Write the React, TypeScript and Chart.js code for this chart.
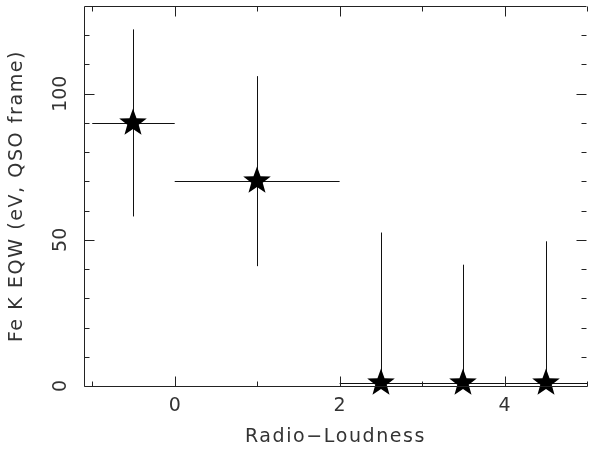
import React, { useEffect, useRef } from "react";
import { Chart, registerables } from "chart.js";

Chart.register(...registerables);

// ---- data ----
const xValues = [-0.5, 1, 2.5, 3.5, 4.5];
const yValues = [90, 70, 1, 1, 1];
const xLow = [-1, 0, 2, 3, 4];
const xHigh = [0, 2, 3, 4, 5];
const yLow = [58, 41, 0, 0, 0];
const yHigh = [122, 106, 52.5, 41.5, 49.5];

const xTickValues = [0, 2, 4];
const xMinorTickValues = [-1, 1, 3, 5];
const yTickValues = [0, 50, 100];
const yMinorTickValues = [10, 20, 30, 40, 60, 70, 80, 90, 110, 120];

const xTitle = "Radio\u2212Loudness";
const yTitle = "Fe K EQW (eV, QSO frame)";

const FONT = "'DejaVu Sans', sans-serif";
const TEXT_COLOR = "#333";

function makeStar(R: number, r: number): HTMLCanvasElement {
  const s = 30;
  const c = document.createElement("canvas");
  c.width = s;
  c.height = s;
  const ctx = c.getContext("2d")!;
  const cx = s / 2;
  const cy = s / 2;
  ctx.beginPath();
  for (let i = 0; i < 10; i++) {
    const rad = i % 2 === 0 ? R : r;
    const a = -Math.PI / 2 + (i * Math.PI) / 5;
    const px = cx + rad * Math.cos(a);
    const py = cy + rad * Math.sin(a);
    if (i === 0) ctx.moveTo(px, py);
    else ctx.lineTo(px, py);
  }
  ctx.closePath();
  ctx.fillStyle = "#000";
  ctx.fill();
  return c;
}

const framePlugin = {
  id: "pgframe",
  beforeDraw(chart: any) {
    chart.ctx.letterSpacing = "1.6px";
  },
  beforeDatasetsDraw(chart: any) {
    const ctx = chart.ctx;
    ctx.letterSpacing = "0px";
    const xs = chart.scales.x;
    const ys = chart.scales.y;
    ctx.save();
    ctx.strokeStyle = "#111";
    ctx.lineWidth = 1;
    for (let i = 0; i < xValues.length; i++) {
      const px = Math.round(xs.getPixelForValue(xValues[i])) + 0.5;
      const py = Math.round(ys.getPixelForValue(yValues[i])) + 0.5;
      ctx.beginPath();
      ctx.moveTo(xs.getPixelForValue(xLow[i]), py);
      ctx.lineTo(xs.getPixelForValue(xHigh[i]), py);
      ctx.moveTo(px, ys.getPixelForValue(yLow[i]));
      ctx.lineTo(px, ys.getPixelForValue(yHigh[i]));
      ctx.stroke();
    }
    ctx.restore();
    ctx.imageSmoothingEnabled = false;
  },
  afterDatasetsDraw(chart: any) {
    chart.ctx.imageSmoothingEnabled = true;
  },
  afterDraw(chart: any) {
    const ctx = chart.ctx;
    const { left, right, top, bottom } = chart.chartArea;
    const xs = chart.scales.x;
    const ys = chart.scales.y;
    ctx.save();
    ctx.letterSpacing = "0px";
    ctx.strokeStyle = "#222";
    ctx.lineWidth = 1;
    const L = Math.round(left) + 0.5;
    const B = Math.round(bottom) + 0.5;
    const T = Math.round(top) + 0.5;
    const R = Math.round(right) - 0.5;
    ctx.beginPath();
    // frame: top, left, bottom (no right line)
    ctx.moveTo(R, T);
    ctx.lineTo(L, T);
    ctx.lineTo(L, B);
    ctx.lineTo(R + 1, B);
    const xt = (v: number, len: number) => {
      const p = Math.round(xs.getPixelForValue(v)) + 0.5;
      ctx.moveTo(p, B);
      ctx.lineTo(p, B - len);
      ctx.moveTo(p, T);
      ctx.lineTo(p, T + len);
    };
    const yt = (v: number, len: number) => {
      const p = Math.round(ys.getPixelForValue(v)) + 0.5;
      ctx.moveTo(L, p);
      ctx.lineTo(L + len, p);
      ctx.moveTo(R, p);
      ctx.lineTo(R - len, p);
    };
    xTickValues.forEach((v) => xt(v, 10));
    xMinorTickValues.forEach((v) => xt(v, 5));
    yTickValues.forEach((v) => yt(v, 10));
    yMinorTickValues.forEach((v) => yt(v, 5));
    ctx.stroke();
    ctx.restore();
  },
};

export default function App() {
  const ref = useRef<HTMLCanvasElement | null>(null);

  useEffect(() => {
    document.body.style.margin = "0";
    const canvas = ref.current!;
    const star = makeStar(14.5, 6);
    const chart = new Chart(canvas, {
      type: "scatter",
      data: {
        datasets: [
          {
            data: xValues.map((x, i) => ({ x, y: yValues[i] })),
            pointStyle: star as any,
            pointRadius: 14,
            backgroundColor: "#000",
            borderColor: "#000",
            showLine: false,
            clip: false as any,
          },
        ],
      },
      options: {
        animation: false,
        responsive: false,
        devicePixelRatio: 1,
        layout: { autoPadding: false, padding: { top: 6, right: 7, left: 0, bottom: 0 } },
        plugins: {
          legend: { display: false },
          tooltip: { enabled: false },
        },
        scales: {
          x: {
            type: "linear",
            min: -1.1,
            max: 5,
            afterBuildTicks: (s: any) => {
              s.ticks = xTickValues.map((v) => ({ value: v }));
            },
            afterFit: (s: any) => {
              s.height = 64;
              s.paddingLeft = 0;
              s.paddingRight = 0;
            },
            grid: { display: false, drawTicks: false },
            border: { display: false },
            ticks: {
              z: 1,
              padding: 9,
              color: TEXT_COLOR,
              font: { family: FONT, size: 19 },
              maxRotation: 0,
              autoSkip: false,
            },
            title: {
              display: true,
              text: xTitle,
              color: TEXT_COLOR,
              font: { family: FONT, size: 19 },
              padding: { top: 0, bottom: 1.6 },
            },
          },
          y: {
            type: "linear",
            min: 0,
            max: 130,
            afterBuildTicks: (s: any) => {
              s.ticks = yTickValues.map((v) => ({ value: v }));
            },
            afterFit: (s: any) => {
              s.width = 84;
              s.paddingTop = 0;
              s.paddingBottom = 0;
            },
            grid: { display: false, drawTicks: false },
            border: { display: false },
            ticks: {
              z: 1,
              padding: 4.5,
              crossAlign: "center",
              minRotation: 90,
              maxRotation: 90,
              color: TEXT_COLOR,
              font: { family: FONT, size: 19 },
              autoSkip: false,
            },
            title: {
              display: true,
              text: yTitle,
              color: TEXT_COLOR,
              font: { family: FONT, size: 19 },
              padding: { top: 5.6, bottom: 0 },
            },
          },
        },
      },
      plugins: [framePlugin],
    });
    return () => chart.destroy();
  }, []);

  return (
    <div style={{ width: 594, height: 450 }}>
      <canvas ref={ref} width={594} height={450} style={{ display: "block" }} />
    </div>
  );
}
